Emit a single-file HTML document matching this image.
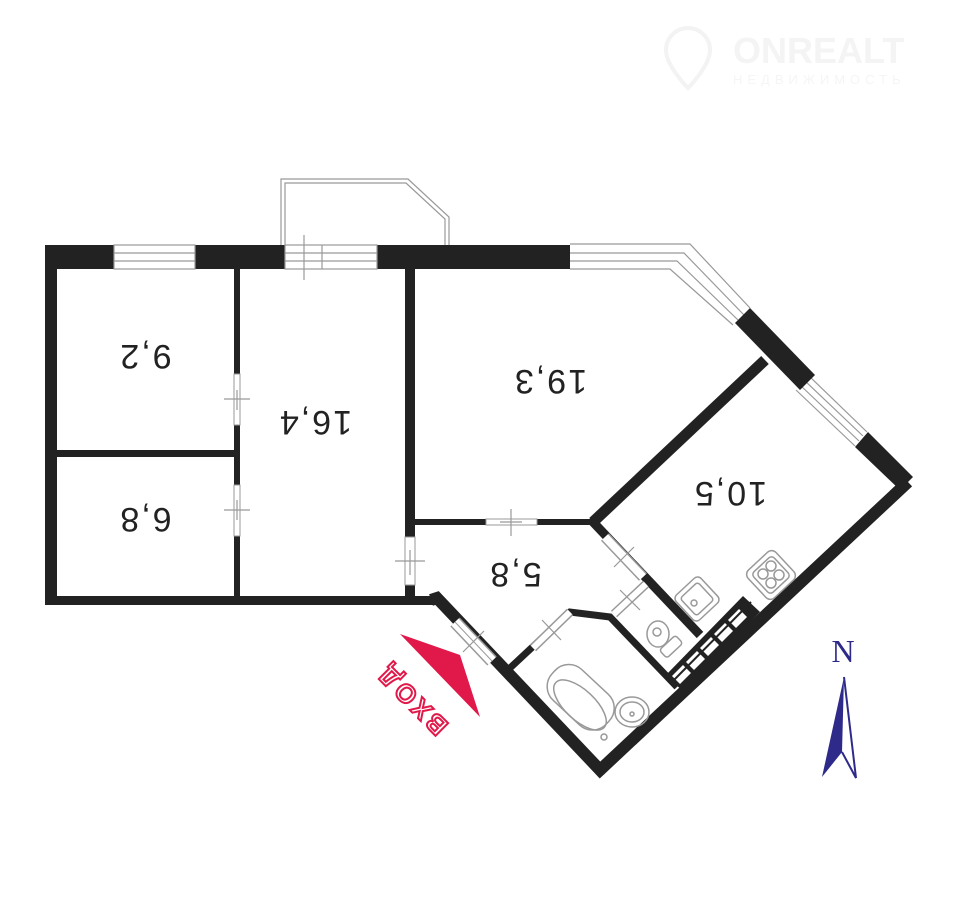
<!DOCTYPE html>
<html><head><meta charset="utf-8"><style>
html,body{margin:0;padding:0;background:#fff;}
svg{display:block;}
text{font-family:"Liberation Sans",sans-serif;}
</style></head><body>
<svg width="960" height="910" viewBox="0 0 960 910" xmlns="http://www.w3.org/2000/svg">
<!-- watermark -->
<g>
<path d="M688 28 a22 22 0 0 1 22 22 c0 16 -22 38 -22 38 c0 0 -22 -22 -22 -38 a22 22 0 0 1 22 -22z" fill="none" stroke="#f3f3f3" stroke-width="4"/>
<text x="733" y="63" font-size="36" font-weight="bold" fill="#f4f4f4">ONREALT</text>
<text x="733" y="84" font-size="13" fill="#f5f5f5" letter-spacing="5">НЕДВИЖИМОСТЬ</text>
</g>

<!-- balcony -->
<polyline points="281,245 281,179 408,179 449,217 449,245" fill="none" stroke="#999" stroke-width="1.2"/>
<polyline points="285,245 285,183 406,183 445,219 445,245" fill="none" stroke="#999" stroke-width="1.2"/>

<!-- top wall -->
<rect x="45" y="245" width="69" height="24" fill="#222"/>
<rect x="195" y="245" width="90" height="24" fill="#222"/>
<rect x="377" y="245" width="193" height="24" fill="#222"/>
<g stroke="#999" stroke-width="1.2" fill="none">
<rect x="114" y="245" width="81" height="24"/>
<line x1="114" y1="253" x2="195" y2="253"/><line x1="114" y1="261" x2="195" y2="261"/>
<rect x="285" y="245" width="92" height="24"/>
<line x1="285" y1="253" x2="377" y2="253"/><line x1="285" y1="261" x2="377" y2="261"/>
<line x1="304" y1="235" x2="304" y2="280"/><line x1="322" y1="245" x2="322" y2="269"/>
<polyline points="570,244 690,244 750,308"/>
<polyline points="570,253 684,253 744,315"/>
<polyline points="570,261 677,261 738,320"/>
<polyline points="570,269 670,269 733,325"/>
<line x1="808" y1="375" x2="867" y2="432"/>
<line x1="804" y1="380" x2="863" y2="436"/>
<line x1="800" y1="385" x2="859" y2="441"/>
<line x1="796" y1="390" x2="855" y2="446"/>
</g>
<polygon points="735,323 750,308 815,375 800,390" fill="#222"/>
<polygon points="855,447 868,432 913,477 900,490" fill="#222"/>

<!-- left / bottom walls -->
<rect x="45" y="245" width="12" height="360" fill="#222"/>
<rect x="45" y="596" width="392" height="9" fill="#222"/>
<polyline points="431,600 437,598 600,770 908,482" fill="none" stroke="#222" stroke-width="12" stroke-linejoin="miter"/>

<!-- inner partitions -->
<rect x="234" y="269" width="6" height="327" fill="#222"/>
<rect x="57" y="450" width="177" height="7" fill="#222"/>
<rect x="405" y="269" width="10" height="327" fill="#222"/>
<rect x="415" y="519" width="180" height="6" fill="#222"/>
<line x1="593" y1="522" x2="765" y2="360" stroke="#222" stroke-width="11"/>
<line x1="593" y1="522" x2="700" y2="635" stroke="#222" stroke-width="9"/>
<polyline points="510,668 570,612 610,617 677,687" fill="none" stroke="#222" stroke-width="7"/>

<!-- doors -->
<g>
<rect x="234" y="374" width="6" height="51" fill="#fff" stroke="#999" stroke-width="1"/>
<rect x="234" y="485" width="6" height="51" fill="#fff" stroke="#999" stroke-width="1"/>
<rect x="405" y="537" width="10" height="48" fill="#fff" stroke="#999" stroke-width="1"/>
<rect x="486" y="519" width="51" height="6" fill="#fff" stroke="#999" stroke-width="1"/>
<line x1="455" y1="622" x2="492" y2="661" stroke="#999" stroke-width="13"/>
<line x1="455" y1="622" x2="492" y2="661" stroke="#fff" stroke-width="10"/>
<line x1="455" y1="622" x2="492" y2="661" stroke="#999" stroke-width="1"/>
<line x1="605" y1="537" x2="643" y2="577" stroke="#999" stroke-width="11"/>
<line x1="605" y1="537" x2="643" y2="577" stroke="#fff" stroke-width="8"/>
<line x1="533" y1="648" x2="570" y2="612" stroke="#999" stroke-width="9"/>
<line x1="533" y1="648" x2="570" y2="612" stroke="#fff" stroke-width="6"/>
<line x1="614" y1="614" x2="646" y2="584" stroke="#999" stroke-width="9"/>
<line x1="614" y1="614" x2="646" y2="584" stroke="#fff" stroke-width="6"/>
</g>
<g stroke="#999" stroke-width="1.2">
<line x1="224" y1="399" x2="250" y2="399"/><line x1="237" y1="390" x2="237" y2="410"/>
<line x1="224" y1="510" x2="250" y2="510"/><line x1="237" y1="500" x2="237" y2="520"/>
<line x1="395" y1="561" x2="425" y2="561"/><line x1="410" y1="550" x2="410" y2="575"/>
<line x1="511" y1="509" x2="511" y2="536"/><line x1="500" y1="522" x2="522" y2="522"/>
<line x1="463" y1="652" x2="484" y2="631"/>
<line x1="614" y1="567" x2="634" y2="547"/>
<line x1="542" y1="620" x2="561" y2="640"/>
<line x1="620" y1="590" x2="640" y2="610"/>
</g>

<!-- kitchen counter grid -->
<polygon points="665,676 743,596 760,612 682,690" fill="#222"/>
<g fill="#fff">
<polygon points="672,676 683,665 691,673 680,684"/>
<polygon points="686,662 697,651 705,659 694,670"/>
<polygon points="700,648 711,637 719,645 708,656"/>
<polygon points="714,634 725,623 733,631 722,642"/>
<polygon points="728,620 739,609 747,617 736,628"/>
</g>
<line x1="673" y1="681" x2="751" y2="602" stroke="#222" stroke-width="2"/>

<!-- fixtures -->
<g fill="none" stroke="#999" stroke-width="1.5">
<rect x="680" y="582" width="34" height="34" rx="5" transform="rotate(-43 697 599)"/>
<rect x="685" y="587" width="24" height="24" rx="3" transform="rotate(-43 697 599)"/>
<circle cx="694" cy="603" r="3"/>
<rect x="752" y="556" width="38" height="38" rx="6" transform="rotate(-43 771 575)"/>
<rect x="757" y="561" width="28" height="28" rx="4" transform="rotate(-43 771 575)"/>
<circle cx="763" cy="574" r="5"/><circle cx="771" cy="566" r="5"/><circle cx="779" cy="575" r="5"/><circle cx="771" cy="583" r="5"/>
<ellipse cx="658" cy="634" rx="11" ry="13"/>
<circle cx="657" cy="632" r="4"/>
<rect x="660" y="642" width="22" height="11" rx="3" transform="rotate(-43 670 647)"/>
<rect x="543" y="676" width="74" height="42" rx="19" transform="rotate(43 580 698)"/>
<ellipse cx="580" cy="705" rx="33" ry="15" transform="rotate(43 580 705)"/>
<circle cx="604" cy="737" r="3"/>
<ellipse cx="632" cy="712" rx="17" ry="15"/>
<ellipse cx="632" cy="712" rx="12" ry="10"/>
<circle cx="632" cy="714" r="2"/>
</g>

<!-- labels -->
<g font-size="34" fill="#222" text-anchor="middle" letter-spacing="2">
<text transform="translate(145,345) rotate(180)">9,2</text>
<text transform="translate(315,411) rotate(180)">16,4</text>
<text transform="translate(550,370) rotate(180)">19,3</text>
<text transform="translate(730,482) rotate(180)">10,5</text>
<text transform="translate(145,508) rotate(180)">6,8</text>
<text transform="translate(515,563) rotate(180)">5,8</text>
</g>

<!-- entrance arrow -->
<polygon points="400,634 460,655 480,717" fill="#e0194a"/>
<text transform="translate(418,693) rotate(225)" font-size="26" font-weight="bold" fill="none" stroke="#e0194a" stroke-width="2" text-anchor="middle" letter-spacing="4">ВХОД</text>

<!-- compass -->
<text x="843" y="662" style="font-family:'Liberation Serif',serif" font-size="32" fill="#2e2a8a" text-anchor="middle">N</text>
<polygon points="844,677 822,777 842,752" fill="#2e2a8a"/>
<polyline points="844,677 856,778 842,752" fill="none" stroke="#2e2a8a" stroke-width="2"/>
</svg>
</body></html>
